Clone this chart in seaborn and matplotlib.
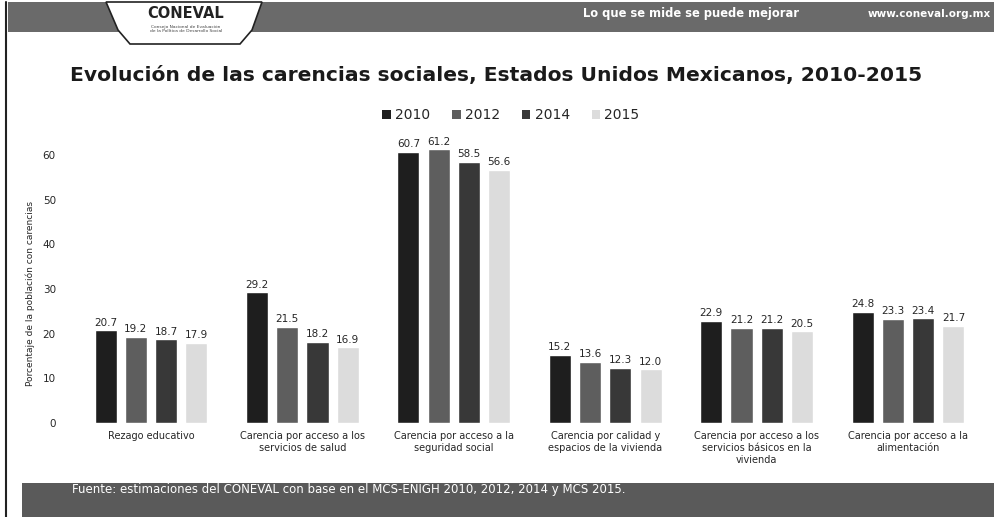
import matplotlib
matplotlib.use("Agg")
import matplotlib.pyplot as plt
import seaborn as sns
import pandas as pd
from matplotlib.patches import Polygon, Rectangle, Patch
from matplotlib.lines import Line2D

categories = [
    "Rezago educativo",
    "Carencia por acceso a los\nservicios de salud",
    "Carencia por acceso a la\nseguridad social",
    "Carencia por calidad y\nespacios de la vivienda",
    "Carencia por acceso a los\nservicios básicos en la\nvivienda",
    "Carencia por acceso a la\nalimentación",
]
years = ["2010", "2012", "2014", "2015"]
v2010 = [20.7, 29.2, 60.7, 15.2, 22.9, 24.8]
v2012 = [19.2, 21.5, 61.2, 13.6, 21.2, 23.3]
v2014 = [18.7, 18.2, 58.5, 12.3, 21.2, 23.4]
v2015 = [17.9, 16.9, 56.6, 12.0, 20.5, 21.7]
yticks = [0, 10, 20, 30, 40, 50, 60]

title = "Evolución de las carencias sociales, Estados Unidos Mexicanos, 2010-2015"
ylabel = "Porcentaje de la población con carencias"
footer = "Fuente: estimaciones del CONEVAL con base en el MCS-ENIGH 2010, 2012, 2014 y MCS 2015."
slogan = "Lo que se mide se puede mejorar"
website = "www.coneval.org.mx"

colors = {"2010": "#1e1e1e", "2012": "#5e5e5e", "2014": "#383838", "2015": "#dcdcdc"}

rows = []
for yr, vals in zip(years, [v2010, v2012, v2014, v2015]):
    for c, v in zip(categories, vals):
        rows.append({"cat": c, "year": yr, "val": v})
df = pd.DataFrame(rows)

sns.set_theme(style="white")
plt.rcParams['font.family'] = ['DejaVu Sans']

W, H = 995, 517
fig = plt.figure(figsize=(W / 100, H / 100), dpi=100)
fig.patch.set_facecolor("white")


def fx(x):
    return x / W


def fy(y):
    return 1 - y / H


# axes: y=0 at 423px, y=65 at 132.5px
ax = fig.add_axes([fx(75.3), fy(423), fx(983.7 - 75.3), (423 - 132.5) / H])
sns.barplot(data=df, x="cat", y="val", hue="year", hue_order=years,
            order=categories, palette=colors, width=0.8, gap=0.27,
            saturation=1, ax=ax, legend=False)
ax.set_xlim(-0.5, 5.5)
ax.set_ylim(0, 65)
ax.set_yticks(yticks)
ax.set_xlabel("")
ax.set_ylabel("")
for s in ax.spines.values():
    s.set_visible(False)
ax.tick_params(axis="y", length=0, pad=14, labelsize=7.5)
ax.tick_params(axis="x", length=0, pad=6, labelsize=7)
for cont in ax.containers:
    ax.bar_label(cont, fmt="%.1f", padding=2, fontsize=7.5)

fig.text(fx(30), fy(293), ylabel, rotation=90, ha="center", va="center", fontsize=6.5)
fig.text(fx(496), fy(76), title, ha="center", va="center", fontsize=14.6,
         fontweight="bold", color="#1a1a1a")

handles = [Patch(facecolor=colors[y], edgecolor="none") for y in years]
fig.legend(handles, years, loc="center", bbox_to_anchor=(fx(511), fy(115)), ncol=4,
           frameon=False, fontsize=10, handlelength=0.6, handleheight=0.6,
           handletextpad=0.3, columnspacing=1.6)

# header band
band = "#6a6a6a"
hdr = Polygon([(fx(8), fy(2)), (fx(995), fy(2)), (fx(995), fy(32)), (fx(8), fy(32))],
              closed=True, transform=fig.transFigure, facecolor=band, edgecolor="none")
fig.patches.append(hdr)
notch = Polygon([(fx(106), fy(2)), (fx(262), fy(2)), (fx(252), fy(30)), (fx(240), fy(44)),
                 (fx(130), fy(44)), (fx(118), fy(30))],
                closed=True, transform=fig.transFigure, facecolor="white", edgecolor="#222222",
                linewidth=1.2)
fig.patches.append(notch)
fig.text(fx(186), fy(13), "CONEVAL", ha="center", va="center", fontsize=10.5,
         fontweight="bold", color="#222222")
fig.text(fx(186), fy(29), "Consejo Nacional de Evaluación\nde la Política de Desarrollo Social",
         ha="center", va="center", fontsize=3.2, color="#444444", linespacing=1.1)
fig.text(fx(691), fy(14), slogan, ha="center", va="center", fontsize=8.3,
         fontweight="bold", color="white")
fig.text(fx(929), fy(14), website, ha="center", va="center", fontsize=7.5,
         fontweight="bold", color="white")

# footer band
fig.patches.append(Rectangle((fx(22), 0), fx(995 - 22), (517 - 483) / H,
                             transform=fig.transFigure, facecolor="#5a5a5a", edgecolor="none"))
fig.text(fx(72), fy(490), footer, ha="left", va="center", fontsize=8.5, color="white")

# left border line
fig.add_artist(Line2D([fx(6), fx(6)], [0, fy(2)], transform=fig.transFigure,
                      color="#222222", linewidth=1.5))

fig.savefig("out.png", dpi=100)
